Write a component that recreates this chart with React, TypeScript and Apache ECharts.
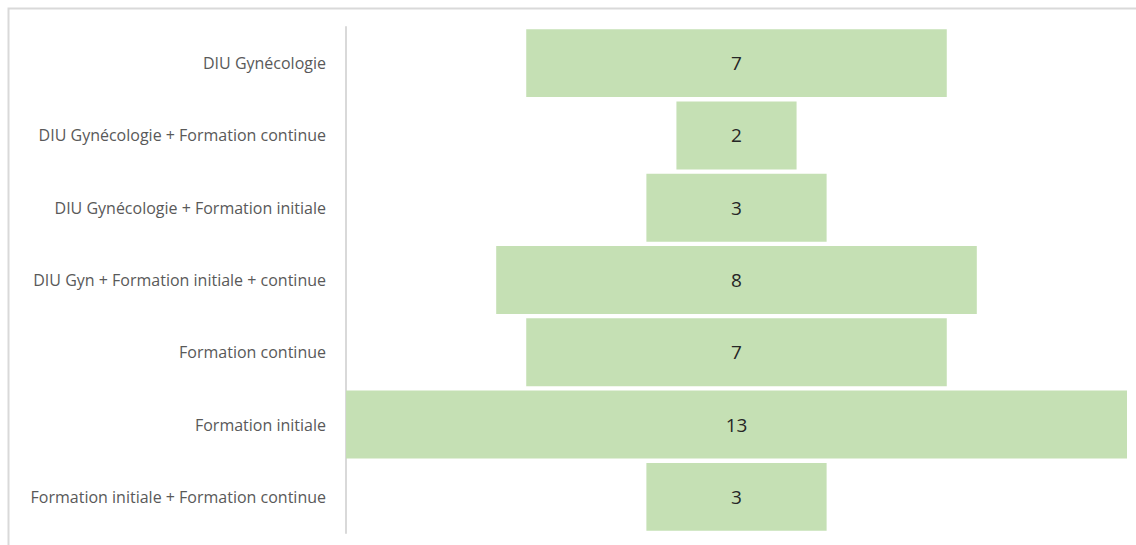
import React, { useEffect, useRef } from "react";
import * as echarts from "echarts";

const categories = [
  "DIU Gynécologie",
  "DIU Gynécologie + Formation continue",
  "DIU Gynécologie + Formation initiale",
  "DIU Gyn + Formation initiale + continue",
  "Formation continue",
  "Formation initiale",
  "Formation initiale + Formation continue",
];
const values = [7, 2, 3, 8, 7, 13, 3];
const maxValue = 13;

export default function App() {
  const ref = useRef<HTMLDivElement>(null);
  useEffect(() => {
    if (!ref.current) return;
    const chart = echarts.init(ref.current, undefined, { renderer: "svg" });
    const offsets = values.map((v) => (maxValue - v) / 2);
    chart.setOption({
      animation: false,
      backgroundColor: "#ffffff",
      textStyle: { fontFamily: "Open Sans" },
      graphic: [
        {
          type: "rect",
          shape: { x: 8.5, y: 8.5, width: 1300, height: 700 },
          style: { fill: "none", stroke: "#d9d9d9", lineWidth: 2 },
          silent: true,
        },
      ],
      grid: { left: 346, right: 9, top: 27, bottom: 12, containLabel: false },
      xAxis: {
        type: "value",
        min: 0,
        max: maxValue,
        show: false,
      },
      yAxis: {
        type: "category",
        data: categories,
        inverse: true,
        axisLine: { show: true, lineStyle: { color: "#d9d9d9", width: 2 } },
        axisTick: { show: false },
        axisLabel: {
          margin: 20,
          fontSize: 16,
          color: "#595959",
          fontFamily: "Open Sans",
        },
      },
      series: [
        {
          type: "bar",
          stack: "f",
          data: offsets,
          itemStyle: { color: "transparent" },
          silent: true,
          barCategoryGap: "6%",
        },
        {
          type: "bar",
          stack: "f",
          data: values,
          itemStyle: { color: "#c5e0b4" },
          barCategoryGap: "6%",
          label: {
            show: true,
            position: "inside",
            fontSize: 19,
            color: "#262626",
            fontFamily: "Open Sans",
          },
        },
      ],
    });
    return () => chart.dispose();
  }, []);
  return (
    <div
      ref={ref}
      style={{ position: "fixed", left: 0, top: 0, width: 1136, height: 545 }}
    />
  );
}
